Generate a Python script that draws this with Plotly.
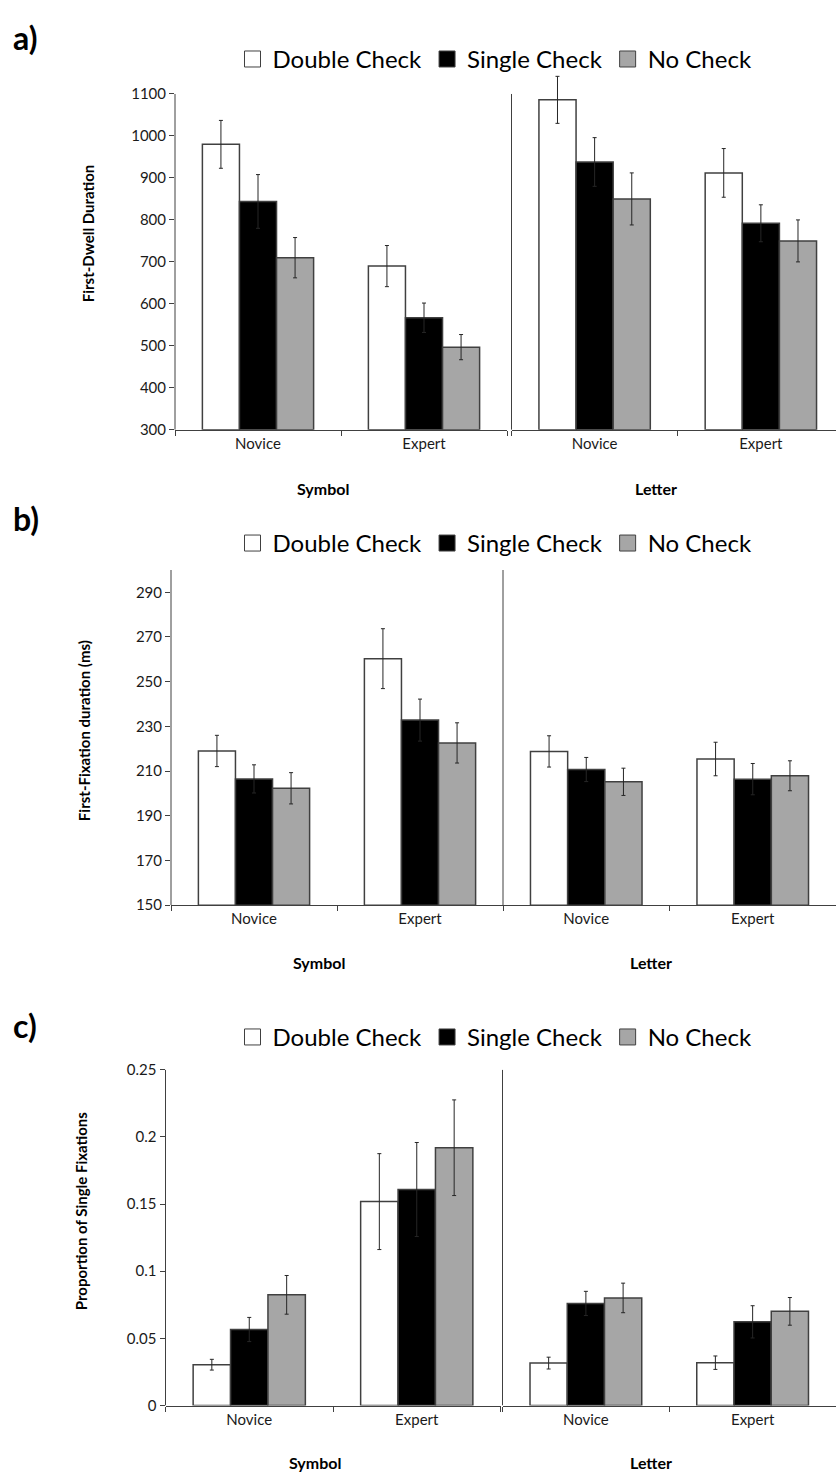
import plotly.graph_objects as go

# ---------------- data ----------------
groups = ["Novice", "Expert"]
series = ["Double Check", "Single Check", "No Check"]

# Panel a: First-Dwell Duration
a_symbol = {"Double Check": [980, 690], "Single Check": [844, 567], "No Check": [710, 497]}
a_symbol_err = {"Double Check": [57, 49], "Single Check": [64, 35], "No Check": [48, 30]}
a_letter = {"Double Check": [1086, 912], "Single Check": [938, 792], "No Check": [850, 750]}
a_letter_err = {"Double Check": [56, 58], "Single Check": [58, 44], "No Check": [62, 50]}

# Panel b: First-Fixation duration (ms)
b_symbol = {"Double Check": [219, 260.3], "Single Check": [206.5, 232.8], "No Check": [202.3, 222.6]}
b_symbol_err = {"Double Check": [7, 13.4], "Single Check": [6.3, 9.4], "No Check": [7, 9]}
b_letter = {"Double Check": [218.8, 215.4], "Single Check": [210.7, 206.4], "No Check": [205.2, 207.9]}
b_letter_err = {"Double Check": [7, 7.5], "Single Check": [5.4, 7], "No Check": [6.1, 6.7]}

# Panel c: Proportion of Single Fixations
c_symbol = {"Double Check": [0.0304, 0.1518], "Single Check": [0.0566, 0.1608], "No Check": [0.0824, 0.1919]}
c_symbol_err = {"Double Check": [0.004, 0.0357], "Single Check": [0.009, 0.035], "No Check": [0.0144, 0.0356]}
c_letter = {"Double Check": [0.0316, 0.0319], "Single Check": [0.076, 0.0623], "No Check": [0.0801, 0.0701]}
c_letter_err = {"Double Check": [0.0044, 0.005], "Single Check": [0.009, 0.012], "No Check": [0.011, 0.0103]}

y_titles = ["First-Dwell Duration", "First-Fixation duration (ms)", "Proportion of Single Fixations"]
y_ranges = [(300, 1100), (150, 300), (0, 0.25)]
y_dticks = [100, 20, 0.05]
panel_labels = ["a)", "b)", "c)"]
sub_titles = ["Symbol", "Letter"]

# ---------------- styling ----------------
W, H = 836, 1482
FONT = "Lato, 'Open Sans', sans-serif"
fills = {"Double Check": "#ffffff", "Single Check": "#000000", "No Check": "#a6a6a6"}
EDGE = "#404040"
AXC = "#404040"

def px_x(x):
    return x / W

def px_y(y):
    return 1 - y / H

# layout geometry per panel (pixel positions); head = pixel headroom above axis top
panels = [
    dict(top=85, bottom=425, head=24, left=(175, 507), right=(511.5, 836), right_range=(-0.5, 1.452),
         legend_y=50, label_y=28, ytitle=(88, 226), sub_y=484),
    dict(top=566.8, bottom=906.2, head=0, left=(171, 503), right=(503, 836), right_range=(-0.5, 1.5),
         legend_y=540, label_y=515, ytitle=(84, 730), sub_y=964),
    dict(top=1072.7, bottom=1412.7, head=0, left=(165.5, 500.5), right=(502.5, 836), right_range=(-0.5, 1.5),
         legend_y=1040, label_y=1028, ytitle=(81, 1216), sub_y=1470),
]
panel_data = [
    ((a_symbol, a_symbol_err), (a_letter, a_letter_err)),
    ((b_symbol, b_symbol_err), (b_letter, b_letter_err)),
    ((c_symbol, c_symbol_err), (c_letter, c_letter_err)),
]

fig = go.Figure()
layout = dict(
    width=W, height=H, margin=dict(l=0, r=0, t=0, b=0),
    paper_bgcolor="white", plot_bgcolor="white",
    barmode="group", bargap=0.33, bargroupgap=0,
    font=dict(family=FONT, color="#000"),
    showlegend=True,
)
annotations = []
shapes = []
legend_names = ["legend", "legend2", "legend3"]

ax_i = 0
for p, (geo, pdata) in enumerate(zip(panels, panel_data)):
    ymin, ymax = y_ranges[p]
    span_px = geo["bottom"] - geo["top"]
    # extend the range upward so tall error bars are not clipped
    ymax_ext = ymax + (ymax - ymin) * geo["head"] / span_px
    top_px = geo["top"] - geo["head"]
    lg = legend_names[p]
    for side in range(2):
        ax_i += 1
        xa = "x" if ax_i == 1 else f"x{ax_i}"
        ya = "y" if ax_i == 1 else f"y{ax_i}"
        vals, errs = pdata[side]
        for s in series:
            fig.add_trace(go.Bar(
                x=groups, y=[v - ymin for v in vals[s]], base=ymin,
                name=s, showlegend=False,
                marker=dict(color=fills[s], line=dict(color=EDGE, width=1.5)),
                error_y=dict(type="data", array=errs[s], color="#262626", thickness=1, width=2),
                xaxis=xa, yaxis=ya, offsetgroup=s,
            ))
        dom_x = geo["left"] if side == 0 else geo["right"]
        xkey = "xaxis" if ax_i == 1 else f"xaxis{ax_i}"
        ykey = "yaxis" if ax_i == 1 else f"yaxis{ax_i}"
        xr = (-0.5, 1.5) if side == 0 else geo["right_range"]
        layout[xkey] = dict(
            domain=[px_x(dom_x[0]), px_x(dom_x[1])], anchor=ya,
            type="category", range=list(xr),
            showline=True, linecolor=AXC, linewidth=1,
            ticks="outside", tickson="boundaries", ticklen=5, tickcolor=AXC,
            tickfont=dict(family=FONT, size=15, color="#1a1a1a"),
            showgrid=False, zeroline=False, fixedrange=True,
        )
        ycfg = dict(
            domain=[px_y(geo["bottom"]), px_y(top_px)], anchor=xa,
            range=[ymin, ymax_ext], showline=False,
            showgrid=False, zeroline=False, fixedrange=True,
        )
        if side == 0:
            ycfg.update(ticks="outside", ticklen=5, tickcolor=AXC, tick0=ymin, dtick=y_dticks[p],
                        tickfont=dict(family=FONT, size=15, color="#1a1a1a"))
        else:
            ycfg.update(ticks="", showticklabels=False)
        layout[ykey] = ycfg
        # vertical axis line only up to the axis maximum
        shapes.append(dict(
            type="line", xref=f"{xa} domain", yref=ya, x0=0, x1=0, y0=ymin, y1=ymax,
            line=dict(color=AXC, width=1), layer="above",
        ))
        # subgroup title (Symbol / Letter)
        annotations.append(dict(
            text=f"<b>{sub_titles[side]}</b>", xref=f"{xa} domain", x=0.445,
            yref="paper", y=px_y(geo["sub_y"]), showarrow=False,
            font=dict(family=FONT, size=16, color="#000"), xanchor="center", yanchor="middle",
        ))
        if side == 0:
            for s in series:
                fig.add_trace(go.Scatter(
                    x=[None], y=[None], mode="markers", name=s, legend=lg,
                    marker=dict(symbol="square", size=16, color=fills[s], line=dict(color=EDGE, width=1)),
                    xaxis=xa, yaxis=ya, showlegend=True,
                ))
    layout[lg] = dict(
        orientation="h", x=px_x(495), xanchor="center", y=px_y(geo["legend_y"]), yanchor="middle",
        font=dict(family=FONT, size=24, color="#000"), bgcolor="rgba(0,0,0,0)",
        itemwidth=30, tracegroupgap=0,
    )
    annotations.append(dict(
        text=f"<b>{panel_labels[p]}</b>", xref="paper", yref="paper",
        x=px_x(11), y=px_y(geo["label_y"]), xanchor="left", yanchor="middle",
        showarrow=False, font=dict(family=FONT, size=32, color="#000"),
    ))
    annotations.append(dict(
        text=f"<b>{y_titles[p]}</b>", xref="paper", yref="paper",
        x=px_x(geo["ytitle"][0]), y=px_y(geo["ytitle"][1]), textangle=-90,
        xanchor="center", yanchor="middle", showarrow=False,
        font=dict(family=FONT, size=15, color="#000"),
    ))

layout["annotations"] = annotations
layout["shapes"] = shapes
fig.update_layout(**layout)
fig.write_html("out.html", config={"displayModeBar": False},
               post_script="document.body.style.margin='0px';")
